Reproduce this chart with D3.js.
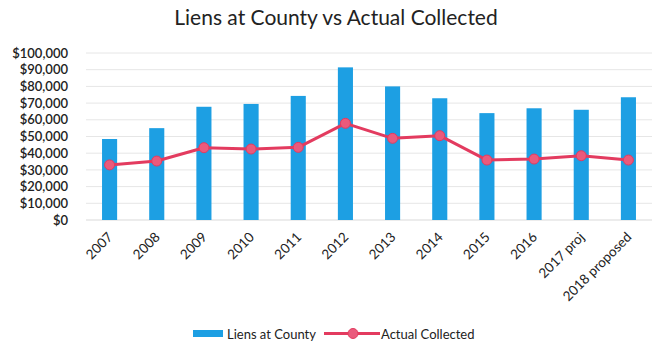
<!DOCTYPE html>
<html>
<head>
<meta charset="utf-8">
<script src="https://cdn.jsdelivr.net/npm/d3@7"></script>
<style>
  html, body { margin: 0; padding: 0; background: #fff; }
  svg { display: block; font-family: Lato, "Open Sans", sans-serif; }
</style>
</head>
<body>
<svg id="chart" width="668" height="346"></svg>
<script>
// Categories and series
const years = ["2007", "2008", "2009", "2010", "2011", "2012", "2013", "2014", "2015", "2016", "2017 proj", "2018 proposed"];
const liensAtCounty = [48500, 55000, 67800, 69500, 74300, 91400, 80000, 72900, 64000, 66900, 66000, 73500];
const actualCollected = [33000, 35300, 43300, 42500, 43500, 57900, 48900, 50500, 35900, 36500, 38500, 35900];
const yTicks = [0, 10000, 20000, 30000, 40000, 50000, 60000, 70000, 80000, 90000, 100000];

const svg = d3.select("#chart");
const W = 668, H = 346;
const m = { left: 86, right: 16, top: 53, bottom: 126 };

const x = d3.scaleBand().domain(years).range([m.left, W - m.right]).paddingInner(0.68).paddingOuter(0.34);
const y = d3.scaleLinear().domain([0, 100000]).range([H - m.bottom, m.top]);

// Title
svg.append("text")
  .attr("x", 336).attr("y", 25)
  .attr("text-anchor", "middle")
  .attr("font-size", 21)
  .attr("fill", "#222")
  .text("Liens at County vs Actual Collected");

// Gridlines
svg.append("g")
  .selectAll("line")
  .data(yTicks.filter(d => d > 0))
  .join("line")
  .attr("x1", m.left).attr("x2", W - m.right)
  .attr("y1", d => y(d)).attr("y2", d => y(d))
  .attr("stroke", "#e6e6e6")
  .attr("stroke-width", 1);

// Y axis labels
const yAxis = d3.axisLeft(y).tickValues(yTicks).tickSize(0).tickPadding(0)
  .tickFormat(d => "$" + d3.format(",")(d));
svg.append("g")
  .attr("transform", `translate(68,0)`)
  .call(yAxis)
  .call(g => g.select(".domain").remove())
  .call(g => g.selectAll("text")
    .attr("font-family", "Lato, sans-serif")
    .attr("font-size", 13)
    .attr("font-weight", 600)
    .attr("fill", "#222"));

// Baseline
svg.append("line")
  .attr("x1", m.left).attr("x2", W - m.right)
  .attr("y1", y(0)).attr("y2", y(0))
  .attr("stroke", "#d9d9d9");

// Bars
svg.append("g")
  .selectAll("rect")
  .data(years.map((k, i) => ({ k, v: liensAtCounty[i] })))
  .join("rect")
  .attr("x", d => x(d.k))
  .attr("width", x.bandwidth())
  .attr("y", d => y(d.v))
  .attr("height", d => y(0) - y(d.v))
  .attr("fill", "#1d9fe3");

// Line series
const cx = k => x(k) + x.bandwidth() / 2;
const pts = years.map((k, i) => ({ k, v: actualCollected[i] }));
svg.append("path")
  .datum(pts)
  .attr("fill", "none")
  .attr("stroke", "#e33b5f")
  .attr("stroke-width", 3)
  .attr("stroke-linejoin", "round")
  .attr("d", d3.line().x(d => cx(d.k)).y(d => y(d.v)));
svg.append("g")
  .selectAll("circle")
  .data(pts)
  .join("circle")
  .attr("cx", d => cx(d.k))
  .attr("cy", d => y(d.v))
  .attr("r", 5)
  .attr("fill", "#ea5a7c")
  .attr("stroke", "#e33b5f")
  .attr("stroke-width", 1);

// X axis labels
const xAxis = d3.axisBottom(x).tickSize(0).tickPadding(0);
svg.append("g")
  .attr("transform", `translate(0,${y(0)})`)
  .call(xAxis)
  .call(g => g.select(".domain").remove())
  .call(g => g.selectAll("text")
    .attr("font-family", "Lato, sans-serif")
    .attr("font-size", 13.5)
    .attr("fill", "#222")
    .attr("text-anchor", "end")
    .attr("dy", null)
    .attr("y", null)
    .attr("transform", "translate(4,18) rotate(-45)"));

// Legend
const lg = svg.append("g");
lg.append("rect").attr("x", 193).attr("y", 330).attr("width", 30).attr("height", 7).attr("fill", "#1d9fe3");
lg.append("text").attr("x", 227).attr("y", 338.5).attr("font-size", 13).attr("fill", "#222").text("Liens at County");
lg.append("line").attr("x1", 324).attr("x2", 380).attr("y1", 333.5).attr("y2", 333.5)
  .attr("stroke", "#e33b5f").attr("stroke-width", 3);
lg.append("circle").attr("cx", 353).attr("cy", 333.5).attr("r", 5)
  .attr("fill", "#ea5a7c").attr("stroke", "#e33b5f");
lg.append("text").attr("x", 381).attr("y", 338.5).attr("font-size", 13).attr("fill", "#222").text("Actual Collected");
</script>
</body>
</html>
